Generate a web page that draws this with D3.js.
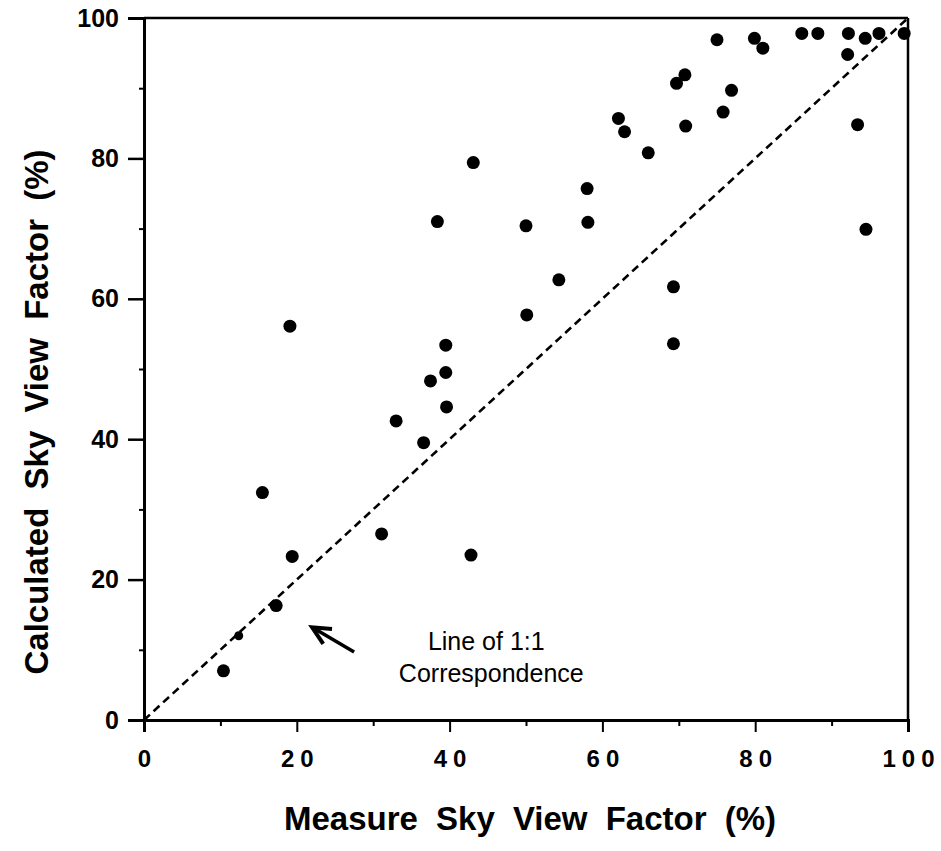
<!DOCTYPE html>
<html>
<head>
<meta charset="utf-8">
<script src="https://cdn.jsdelivr.net/npm/d3@7"></script>
<style>
  html, body { margin: 0; padding: 0; background: #fff; }
  svg { display: block; }
  text { font-family: "Liberation Sans", Arial, Helvetica, sans-serif; fill: #000; }
</style>
</head>
<body>
<svg id="chart" width="941" height="851"></svg>
<script>
// ---- data ----
const measured   = [10.4, 17.3, 19.4, 15.5, 19.1, 31.1, 33.0, 36.6, 37.5, 39.5, 39.5, 39.6, 38.4, 43.1, 42.8,
                    50.0, 50.1, 54.3, 58.0, 58.1, 62.1, 62.9, 66.0, 69.3, 69.3, 69.7, 70.8, 70.9, 75.0, 75.8,
                    76.9, 79.9, 81.0, 86.1, 88.2, 92.2, 92.1, 93.4, 94.4, 94.5, 96.2, 99.5];
const calculated = [7.0, 16.3, 23.3, 32.4, 56.1, 26.5, 42.6, 39.5, 48.3, 49.5, 53.4, 44.6, 71.0, 79.4, 23.5,
                    70.4, 57.7, 62.7, 75.7, 70.9, 85.7, 83.8, 80.8, 61.7, 53.6, 90.7, 91.9, 84.6, 96.9, 86.6,
                    89.7, 97.1, 95.7, 97.8, 97.8, 97.8, 94.8, 84.8, 97.1, 69.9, 97.8, 97.8];
// small smudged mark on the 1:1 line
const smallMeasured = [12.4];
const smallCalculated = [12.0];

const majorTicks = [0, 20, 40, 60, 80, 100];
const minorTicks = [10, 30, 50, 70, 90];
const xTitle = "Measure Sky View Factor (%)";
const yTitle = "Calculated Sky View Factor (%)";
const noteLines = ["Line of 1:1", "Correspondence"];
const notePos = [44.8, 10.0];        // data coords of note (first line baseline)
const arrowFrom = [27.5, 9.7];
const arrowTo = [22.0, 13.2];

// ---- layout ----
const svg = d3.select("#chart");
const mLeft = 144, mRight = 908, mTop = 18, mBottom = 720;
const x = d3.scaleLinear().domain([0, 100]).range([mLeft, mRight]);
const y = d3.scaleLinear().domain([0, 100]).range([mBottom, mTop]);

// frame (top and right)
svg.append("line").attr("x1", mLeft).attr("x2", mRight).attr("y1", mTop).attr("y2", mTop)
  .attr("stroke", "#000").attr("stroke-width", 2.5);
svg.append("line").attr("x1", mRight).attr("x2", mRight).attr("y1", mTop).attr("y2", mBottom)
  .attr("stroke", "#000").attr("stroke-width", 2.5);

// y axis
const yAxis = d3.axisLeft(y).tickValues(majorTicks).tickSize(16).tickPadding(9).tickFormat(d3.format("d"));
const gy = svg.append("g").attr("transform", `translate(${mLeft},0)`).call(yAxis);
gy.select(".domain").attr("stroke-width", 3);
gy.selectAll(".tick line").attr("stroke-width", 2.5);
gy.selectAll(".tick text").style("font-size", "25px").style("font-weight", "bold");
const gyMinor = svg.append("g").attr("transform", `translate(${mLeft},0)`)
  .call(d3.axisLeft(y).tickValues(minorTicks).tickSize(5).tickFormat(""));
gyMinor.select(".domain").remove();
gyMinor.selectAll(".tick line").attr("stroke-width", 2);

// x axis
const xAxis = d3.axisBottom(x).tickValues(majorTicks).tickSize(12).tickPadding(18).tickFormat(d3.format("d"));
const gx = svg.append("g").attr("transform", `translate(0,${mBottom})`).call(xAxis);
gx.select(".domain").attr("stroke-width", 3);
gx.selectAll(".tick line").attr("stroke-width", 2);
gx.selectAll(".tick text").style("font-size", "24px").style("font-weight", "bold")
  .style("letter-spacing", "6px").attr("dx", 3);
const gxMinor = svg.append("g").attr("transform", `translate(0,${mBottom})`)
  .call(d3.axisBottom(x).tickValues(minorTicks).tickSize(6).tickFormat(""));
gxMinor.select(".domain").remove();
gxMinor.selectAll(".tick line").attr("stroke-width", 2);

// 1:1 line
svg.append("line")
  .attr("x1", x(0)).attr("y1", y(0)).attr("x2", x(100)).attr("y2", y(100))
  .attr("stroke", "#000").attr("stroke-width", 2.6).attr("stroke-dasharray", "8,5");

// points
const pts = measured.map((m, i) => ({ m, c: calculated[i] }));
svg.append("g").selectAll("circle").data(pts).join("circle")
  .attr("cx", d => x(d.m)).attr("cy", d => y(d.c)).attr("r", 6.5).attr("fill", "#000");
svg.append("g").selectAll("circle").data(smallMeasured.map((m, i) => ({ m, c: smallCalculated[i] }))).join("circle")
  .attr("cx", d => x(d.m)).attr("cy", d => y(d.c)).attr("r", 4.5).attr("fill", "#000");

// annotation arrow (shaft + open chevron head)
const ax1 = x(arrowFrom[0]), ay1 = y(arrowFrom[1]), ax2 = x(arrowTo[0]), ay2 = y(arrowTo[1]);
const ang = Math.atan2(ay2 - ay1, ax2 - ax1);
const headLen = 20, headAng = 0.45;
svg.append("line")
  .attr("x1", ax1).attr("y1", ay1).attr("x2", ax2 - 2 * Math.cos(ang)).attr("y2", ay2 - 2 * Math.sin(ang))
  .attr("stroke", "#000").attr("stroke-width", 3.5);
svg.append("path")
  .attr("d", `M${ax2 - headLen * Math.cos(ang - headAng)},${ay2 - headLen * Math.sin(ang - headAng)}
              L${ax2},${ay2}
              L${ax2 - headLen * Math.cos(ang + headAng)},${ay2 - headLen * Math.sin(ang + headAng)}`)
  .attr("fill", "none").attr("stroke", "#000").attr("stroke-width", 4).attr("stroke-linejoin", "miter");

// note text
const note = svg.append("text").attr("text-anchor", "middle")
  .style("font-size", "25px");
noteLines.forEach((t, i) => {
  note.append("tspan").attr("x", x(notePos[0]) + (i === 1 ? 5 : 0)).attr("y", y(notePos[1]) + i * 32).text(t);
});

// axis titles
svg.append("text").attr("x", 530).attr("y", 830)
  .attr("text-anchor", "middle").style("font-size", "33px").style("font-weight", "bold")
  .style("word-spacing", "9px").text(xTitle);
svg.append("text").attr("transform", `translate(48,412) rotate(-90)`)
  .attr("text-anchor", "middle").style("font-size", "33px").style("font-weight", "bold")
  .style("word-spacing", "9px").text(yTitle);
</script>
</body>
</html>
